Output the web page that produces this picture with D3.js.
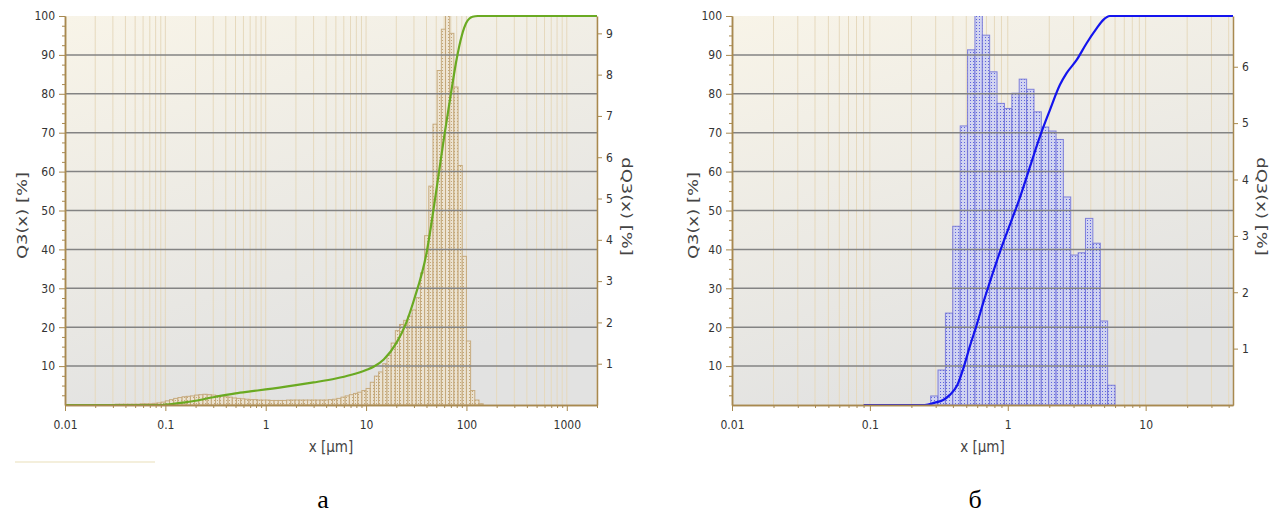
<!DOCTYPE html>
<html><head><meta charset="utf-8">
<script src="https://cdn.jsdelivr.net/npm/d3@7"></script>
<style>
body{margin:0;background:#fff}
svg{display:block}
.tick text{font-family:"Liberation Sans Narrow","DejaVu Sans Condensed",sans-serif;font-size:12px;fill:#333}
</style></head><body>
<svg id="c" width="1285" height="514"></svg>
<script>
// ---------------- DATA ----------------
// Chart (а): cumulative Q3 curve
const leftCurveX  = [0.01, 0.09, 0.1, 0.12, 0.15, 0.2, 0.3, 0.5, 0.7, 1, 2, 3, 5, 7, 10, 12, 15, 20, 25, 30, 40, 50, 60, 70, 80, 90, 100, 115, 130, 2000];
const leftCurveQ3 = [0, 0, 0.1, 0.3, 0.6, 1.1, 2.0, 3.0, 3.5, 4.0, 5.1, 5.8, 6.8, 7.7, 9.0, 9.9, 11.7, 15.9, 21, 27, 39, 55, 69, 80, 89, 95, 98.3, 99.8, 100, 100];
// Chart (а): density dQ3 per class (classes: 24 per decade starting at 10^-1.5 µm)
const leftClassStartExp = -1.5;
const leftClassesPerDecade = 24;
const leftDQ3 = [
  0.02,0.02,0.02,0.02,0.02,0.02,0.03,0.03,0.03,0.04,0.05,0.07,
  0.10,0.13,0.16,0.18,0.20,0.21,0.22,0.24,0.25,0.26,0.25,0.24,
  0.23,0.22,0.20,0.19,0.17,0.16,0.15,0.14,0.13,0.13,0.12,0.12,
  0.12,0.11,0.11,0.11,0.11,0.12,0.12,0.12,0.12,0.12,0.12,0.12,
  0.12,0.12,0.12,0.13,0.14,0.16,0.19,0.22,0.25,0.28,0.31,0.35,
  0.40,0.55,0.70,0.80,1.00,1.20,1.50,1.80,1.95,2.05,2.15,2.30,
  2.60,3.20,4.10,5.30,6.80,8.10,9.10,9.60,9.00,7.70,5.80,3.60,
  1.55,0.35,0.12,0.03
];
const leftXTicks = ["0.01","0.1","1","10","100","1000"];
const leftXDomain = [0.01, 2000];
const leftDqTicks = [1,2,3,4,5,6,7,8,9];
const leftDqMax = 9.42;

// Chart (б)
const rightCurveX  = [0.09, 0.25, 0.296, 0.34, 0.38, 0.43, 0.48, 0.53, 0.6, 0.66, 0.74, 0.88, 1.04, 1.23, 1.45, 1.71, 2.02, 2.39, 2.67, 3.16, 3.73, 4.41, 4.93, 5.5, 43];
const rightCurveQ3 = [0, 0, 0.6, 1.3, 2.6, 5.1, 9.8, 15, 21, 26, 31.5, 39.5, 46.5, 53.5, 61.3, 69, 75.8, 82.3, 85.3, 88.7, 93, 96.8, 99, 100, 100];
const rightEdges = [0.276,0.312,0.353,0.399,0.452,0.511,0.578,0.654,0.739,0.836,0.946,1.07,1.21,1.37,1.55,1.75,1.98,2.24,2.53,2.86,3.24,3.66,4.14,4.69,5.30,6.00];
const rightDQ3 = [0.16,0.62,1.63,3.17,4.95,6.30,7.00,6.56,5.91,5.35,5.26,5.53,5.78,5.60,5.20,4.93,4.86,4.71,3.69,2.66,2.70,3.31,2.87,1.49,0.35];
const rightXTicks = ["0.01","0.1","1","10"];
const rightXDomain = [0.01, 43];
const rightDqTicks = [1,2,3,4,5,6];
const rightDqMax = 6.9;

const q3Ticks = [10,20,30,40,50,60,70,80,90,100];
const captions = ["а","б"];
const q3Title = "Q3(x) [%]";
const dqTitle = "dQ3(x) [%]";
const xTitle = "x [µm]";

// ---------------- DRAW ----------------
const svg = d3.select("#c");
const defs = svg.append("defs");

const grad = defs.append("linearGradient").attr("id","bg")
  .attr("x1","0").attr("y1","0").attr("x2","0.35").attr("y2","1");
grad.append("stop").attr("offset","0").attr("stop-color","#f8f4e8");
grad.append("stop").attr("offset","1").attr("stop-color","#e2e2e1");

function makePattern(id, bg, dot){
  const p = defs.append("pattern").attr("id",id).attr("patternUnits","userSpaceOnUse")
    .attr("width",3).attr("height",3);
  p.append("rect").attr("width",3).attr("height",3).attr("fill",bg);
  p.append("rect").attr("x",1).attr("y",1).attr("width",1).attr("height",1).attr("fill",dot);
}
makePattern("patTan","rgba(238,227,207,0.8)","rgba(190,160,110,0.9)");
makePattern("patBlue","rgba(205,208,243,0.85)","rgba(90,95,220,0.95)");

const axisColor = "#a8894f";

function drawPanel(p){
  const g = svg.append("g");
  const x = d3.scaleLog().domain(p.xDomain).range([p.x0, p.x1]);
  const yQ = d3.scaleLinear().domain([0,100]).range([p.y1, p.y0]);
  const yD = d3.scaleLinear().domain([0,p.dqMax]).range([p.y1, p.y0]);

  defs.append("clipPath").attr("id","clip"+p.id).append("rect")
    .attr("x",p.x0).attr("y",p.y0).attr("width",p.x1-p.x0).attr("height",p.y1-p.y0);

  g.append("rect").attr("x",p.x0).attr("y",p.y0).attr("width",p.x1-p.x0).attr("height",p.y1-p.y0)
    .attr("fill","url(#bg)");

  const inner = g.append("g").attr("clip-path","url(#clip"+p.id+")");
  // vertical log grid
  inner.selectAll("line.vg").data(x.ticks()).join("line").attr("class","vg")
    .attr("x1",d=>x(d)).attr("x2",d=>x(d)).attr("y1",p.y0).attr("y2",p.y1)
    .attr("stroke","#e6d9bd").attr("stroke-width",1);

  // bars
  const bars = p.dq.map((v,i)=>({lo:p.edges[i], hi:p.edges[i+1], v}));
  inner.selectAll("rect.bar").data(bars).join("rect").attr("class","bar")
    .attr("x",d=>x(d.lo)).attr("width",d=>x(d.hi)-x(d.lo))
    .attr("y",d=>yD(d.v)).attr("height",d=>yD(0)-yD(d.v))
    .attr("fill",p.barFill).attr("stroke",p.barStroke).attr("stroke-width",1);

  // horizontal grid
  inner.selectAll("line.hg").data(q3Ticks.filter(t=>t<100)).join("line").attr("class","hg")
    .attr("x1",p.x0).attr("x2",p.x1).attr("y1",d=>yQ(d)).attr("y2",d=>yQ(d))
    .attr("stroke","#838383").attr("stroke-width",1.5);

  // curve
  const pts = p.curveX.map((v,i)=>[v,p.curveQ[i]]);
  g.append("path").datum(pts)
    .attr("d", d3.line().x(d=>x(d[0])).y(d=>yQ(d[1])).curve(d3.curveMonotoneX))
    .attr("fill","none").attr("stroke",p.curveColor).attr("stroke-width",2.2);

  // axes
  const styleAxis = sel => {
    sel.selectAll(".domain").attr("stroke",axisColor).attr("stroke-width",1.5);
    sel.selectAll(".tick line").attr("stroke",axisColor);
  };
  const minorQ = d3.range(2.5,100,2.5).filter(v=>v%10!==0);
  g.append("g").attr("transform",`translate(${p.x0},0)`)
    .call(d3.axisLeft(yQ).tickValues(minorQ).tickSize(3).tickFormat("").tickSizeOuter(0)).call(styleAxis);
  g.append("g").attr("transform",`translate(${p.x0},0)`)
    .call(d3.axisLeft(yQ).tickValues(q3Ticks).tickSize(6).tickPadding(4).tickSizeOuter(0)).call(styleAxis);
  g.append("g").attr("transform",`translate(${p.x1},0)`)
    .call(d3.axisRight(yD).tickValues(p.dqTicks).tickSize(5).tickPadding(4)
      .tickFormat(d3.format("d")).tickSizeOuter(0)).call(styleAxis);

  const majorX = p.xTicks.map(Number);
  const minorX = x.ticks().filter(v=>!majorX.some(m=>Math.abs(m-v)/m<1e-6));
  g.append("g").attr("transform",`translate(0,${p.y1})`)
    .call(d3.axisBottom(x).tickValues(minorX).tickSize(3).tickFormat("").tickSizeOuter(0)).call(styleAxis);
  g.append("g").attr("transform",`translate(0,${p.y1})`)
    .call(d3.axisBottom(x).tickValues(majorX).tickSize(6).tickPadding(9)
      .tickFormat((d,i)=>p.xTicks[i]).tickSizeOuter(0)).call(styleAxis);

  // titles
  const midY = (p.y0+p.y1)/2;
  g.append("text").text(q3Title)
    .attr("transform",`translate(${p.q3X},${midY+5}) rotate(-90) scale(1,0.82)`)
    .attr("text-anchor","middle").attr("dy","0.35em")
    .style("font-family","DejaVu Sans, Verdana, sans-serif").style("font-size","18px").attr("fill","#444");
  g.append("text").text(dqTitle)
    .attr("transform",`translate(${p.dqX},${midY-4}) rotate(90) scale(1,0.82)`)
    .attr("text-anchor","middle").attr("dy","0.35em")
    .style("font-family","DejaVu Sans, Verdana, sans-serif").style("font-size","18px").attr("fill","#444");
  g.append("text").text(xTitle)
    .attr("transform",`translate(${(p.x0+p.x1)/2},452) scale(0.82,1)`)
    .attr("text-anchor","middle")
    .style("font-family","DejaVu Sans, Verdana, sans-serif").style("font-size","16.5px").attr("fill","#444");

  // caption
  svg.append("text").text(p.caption).attr("x",p.capX).attr("y",508)
    .attr("text-anchor","middle")
    .style("font-family","Liberation Serif, Times New Roman, serif").style("font-size","26px").attr("fill","#000");
}

const leftEdges = d3.range(leftDQ3.length+1).map(i=>Math.pow(10, leftClassStartExp + i/leftClassesPerDecade));

drawPanel({id:"L", x0:65, x1:597, y0:16, y1:405, xDomain:leftXDomain, xTicks:leftXTicks,
  dqMax:leftDqMax, dqTicks:leftDqTicks, edges:leftEdges, dq:leftDQ3,
  curveX:leftCurveX, curveQ:leftCurveQ3, barFill:"url(#patTan)", barStroke:"rgba(196,168,122,0.95)",
  curveColor:"#6aaa22", q3X:22, dqX:627, caption:captions[0], capX:323});

drawPanel({id:"R", x0:732, x1:1233, y0:16, y1:405, xDomain:rightXDomain, xTicks:rightXTicks,
  dqMax:rightDqMax, dqTicks:rightDqTicks, edges:rightEdges, dq:rightDQ3,
  curveX:rightCurveX, curveQ:rightCurveQ3, barFill:"url(#patBlue)", barStroke:"rgba(110,112,215,0.85)",
  curveColor:"#1414ee", q3X:693, dqX:1262, caption:captions[1], capX:975});

// faint decorative underline below chart (а)
svg.append("line").attr("x1",15).attr("x2",155).attr("y1",462).attr("y2",462)
  .attr("stroke","#f1ead0").attr("stroke-width",1.5);
</script>
</body></html>
